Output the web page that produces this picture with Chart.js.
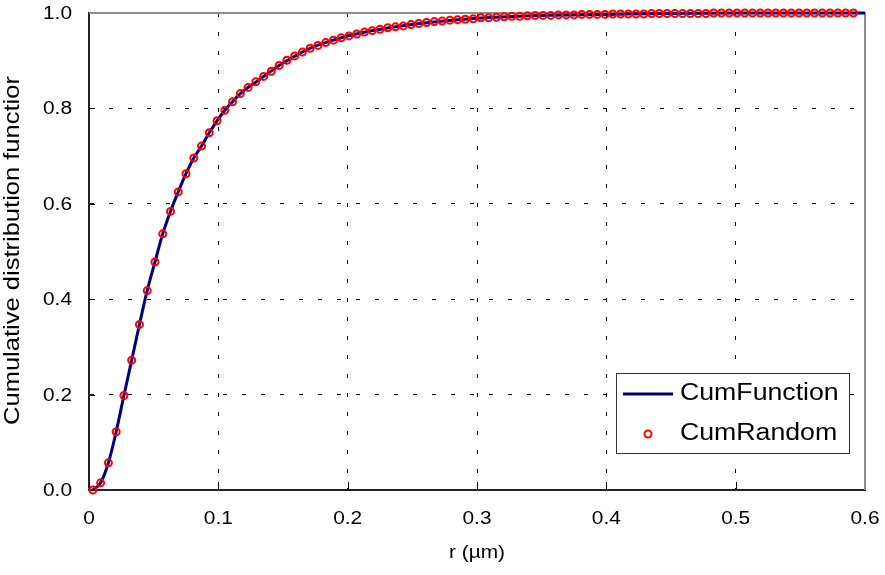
<!DOCTYPE html>
<html>
<head>
<meta charset="utf-8">
<script src="https://cdn.jsdelivr.net/npm/chart.js@4.4.0/dist/chart.umd.min.js"></script>
<style>
  html, body { margin: 0; padding: 0; background: #fff; }
  #grafica { display: block; }
</style>
</head>
<body>
<canvas id="grafica" width="885" height="575"></canvas>
<script>
// Radios de los puntos aleatorios (um)
var radios = [
  0.003, 0.009, 0.015, 0.021, 0.027, 0.033, 0.039, 0.045, 0.051, 0.057,
  0.063, 0.069, 0.075, 0.081, 0.087, 0.093, 0.099, 0.105, 0.111, 0.117,
  0.123, 0.129, 0.135, 0.141, 0.147, 0.153, 0.159, 0.165, 0.171, 0.177,
  0.183, 0.189, 0.195, 0.201, 0.207, 0.213, 0.219, 0.225, 0.231, 0.237,
  0.243, 0.249, 0.255, 0.261, 0.267, 0.273, 0.279, 0.285, 0.291, 0.297,
  0.303, 0.309, 0.315, 0.321, 0.327, 0.333, 0.339, 0.345, 0.351, 0.357,
  0.363, 0.369, 0.375, 0.381, 0.387, 0.393, 0.399, 0.405, 0.411, 0.417,
  0.423, 0.429, 0.435, 0.441, 0.447, 0.453, 0.459, 0.465, 0.471, 0.477,
  0.483, 0.489, 0.495, 0.501, 0.507, 0.513, 0.519, 0.525, 0.531, 0.537,
  0.543, 0.549, 0.555, 0.561, 0.567, 0.573, 0.579, 0.585, 0.591
];

// CumRandom
var cumRandom = [
  0.000, 0.015, 0.057, 0.122, 0.198, 0.272, 0.347, 0.418, 0.478, 0.537,
  0.584, 0.625, 0.663, 0.696, 0.721, 0.749, 0.774, 0.796, 0.814, 0.831,
  0.844, 0.856, 0.867, 0.878, 0.890, 0.901, 0.910, 0.918, 0.926, 0.932,
  0.938, 0.943, 0.948, 0.952, 0.956, 0.960, 0.963, 0.966, 0.969, 0.971,
  0.973, 0.976, 0.978, 0.980, 0.982, 0.983, 0.985, 0.986, 0.987, 0.988,
  0.990, 0.990, 0.991, 0.992, 0.993, 0.993, 0.994, 0.995, 0.995, 0.995,
  0.996, 0.996, 0.996, 0.997, 0.997, 0.997, 0.997, 0.998, 0.998, 0.998,
  0.998, 0.998, 0.999, 0.999, 0.999, 0.999, 0.999, 0.999, 0.999, 0.999,
  1.000, 1.000, 1.000, 1.000, 1.000, 1.000, 1.000, 1.000, 1.000, 1.000,
  1.000, 1.000, 1.000, 1.000, 1.000, 1.000, 1.000, 1.000, 1.000
];

// CumFunction (curva continua)
var radiosFuncion = [
  0.003, 0.009, 0.015, 0.021, 0.027, 0.033, 0.039, 0.045, 0.051, 0.057,
  0.063, 0.069, 0.075, 0.081, 0.087, 0.093, 0.099, 0.105, 0.111, 0.117,
  0.13, 0.15, 0.17, 0.19, 0.21, 0.24, 0.27, 0.30, 0.35, 0.40, 0.45, 0.50, 0.55, 0.60
];
var cumFunction = [
  0.000, 0.015, 0.057, 0.122, 0.198, 0.272, 0.347, 0.418, 0.478, 0.537,
  0.584, 0.625, 0.663, 0.696, 0.721, 0.749, 0.774, 0.796, 0.814, 0.831,
  0.857, 0.895, 0.925, 0.944, 0.958, 0.972, 0.982, 0.989, 0.995, 0.997, 0.999, 1.000, 1.000, 1.000
];

var ticksX = [0, 0.1, 0.2, 0.3, 0.4, 0.5, 0.6];
var etiquetasX = ['0', '0.1', '0.2', '0.3', '0.4', '0.5', '0.6'];
var ticksY = [0, 0.2, 0.4, 0.6, 0.8, 1.0];
var etiquetasY = ['0.0', '0.2', '0.4', '0.6', '0.8', '1.0'];
var nombresSeries = ['CumFunction', 'CumRandom'];
var tituloX = 'r (\u00b5m)';
var tituloY = 'Cumulative distribution functior';

var FUENTE = '"Liberation Sans", Arial, sans-serif';
var ESTIRAR = 1.16; // el texto del original sale algo ensanchado
Chart.defaults.font.family = FUENTE;
Chart.defaults.color = '#000';

function aPuntos(xs, ys) {
    return xs.map(function (x, i) { return { x: x, y: ys[i] }; });
}

// Texto ensanchado horizontalmente (rot en radianes)
function texto(ctx, t, x, y, size, align, rot) {
    ctx.save();
    ctx.translate(x, y);
    if (rot) ctx.rotate(rot);
    ctx.scale(ESTIRAR, 1);
    ctx.font = size + 'px ' + FUENTE;
    ctx.fillStyle = '#000';
    ctx.textAlign = align;
    ctx.textBaseline = 'middle';
    ctx.fillText(t, 0, 0);
    ctx.restore();
}

// Ocultar la rejilla en los bordes del area
function colorRejilla(valores) {
    return function (ctx) {
        if (!ctx.tick) return '#000';
        var v = ctx.tick.value;
        if (v === valores[0] || v === valores[valores.length - 1]) return 'rgba(0,0,0,0)';
        return '#000';
    };
}

// Marco gris, marcas interiores, textos de ejes y leyenda
var marcoPlugin = {
    id: 'marco',
    beforeDatasetsDraw: function (chart) {
        var ctx = chart.ctx;
        var a = chart.chartArea;
        var sx = chart.scales.x, sy = chart.scales.y;
        ctx.save();
        // marcas hacia dentro
        ctx.strokeStyle = '#000';
        ctx.lineWidth = 1;
        ctx.beginPath();
        ticksY.forEach(function (v) {
            var y = Math.round(sy.getPixelForValue(v)) + 0.5;
            ctx.moveTo(a.left, y);
            ctx.lineTo(a.left + 6, y);
        });
        ticksX.forEach(function (v) {
            var x = Math.round(sx.getPixelForValue(v)) + 0.5;
            ctx.moveTo(x, a.bottom);
            ctx.lineTo(x, a.bottom - 8);
        });
        ctx.stroke();
        // borde superior y derecho gris
        ctx.strokeStyle = '#8c8c8c';
        ctx.lineWidth = 2;
        ctx.beginPath();
        ctx.moveTo(a.left, a.top);
        ctx.lineTo(a.right, a.top);
        ctx.lineTo(a.right, a.bottom);
        ctx.stroke();
        ctx.restore();

        // etiquetas de los ejes
        ticksY.forEach(function (v, i) {
            texto(ctx, etiquetasY[i], a.left - 17, sy.getPixelForValue(v) + 1, 18, 'right');
        });
        ticksX.forEach(function (v, i) {
            texto(ctx, etiquetasX[i], sx.getPixelForValue(v), a.bottom + 29, 18, 'center');
        });
        texto(ctx, tituloX, (a.left + a.right) / 2, a.bottom + 63, 18, 'center');
        texto(ctx, tituloY, 12.5, (a.top + a.bottom) / 2 - 1, 22, 'center', -Math.PI / 2);
    },
    afterDatasetsDraw: function (chart) {
        var ctx = chart.ctx;
        var ds = chart.data.datasets;
        ctx.save();
        ctx.fillStyle = '#fff';
        ctx.fillRect(616, 373, 234, 80);
        ctx.strokeStyle = '#333';
        ctx.lineWidth = 1;
        ctx.strokeRect(616.5, 373.5, 233, 80);
        // muestra de linea
        ctx.strokeStyle = ds[0].borderColor;
        ctx.lineWidth = 3;
        ctx.beginPath();
        ctx.moveTo(623, 394);
        ctx.lineTo(673, 394);
        ctx.stroke();
        // muestra de circulo
        ctx.strokeStyle = ds[1].borderColor;
        ctx.lineWidth = 2;
        ctx.beginPath();
        ctx.arc(648, 434, 3.5, 0, Math.PI * 2);
        ctx.stroke();
        ctx.restore();
        // textos
        texto(ctx, ds[0].label, 680, 394, 23, 'left');
        texto(ctx, ds[1].label, 680, 434, 23, 'left');
    }
};

var ctx = document.getElementById('grafica').getContext('2d');
var grafica = new Chart(ctx, {
    type: 'scatter',
    data: {
        datasets: [{
            type: 'line',
            label: nombresSeries[0],
            data: aPuntos(radiosFuncion, cumFunction),
            borderColor: '#000080',
            borderWidth: 3,
            pointRadius: 0,
            fill: false,
            cubicInterpolationMode: 'monotone',
            clip: false,
            order: 2
        }, {
            label: nombresSeries[1],
            data: aPuntos(radios, cumRandom),
            showLine: false,
            pointStyle: 'circle',
            pointRadius: 3.5,
            pointBorderWidth: 2,
            borderColor: '#ff0000',
            pointBorderColor: '#ff0000',
            pointBackgroundColor: 'rgba(0,0,0,0)',
            clip: false,
            order: 1
        }]
    },
    options: {
        responsive: false,
        animation: false,
        devicePixelRatio: 1,
        layout: { padding: { top: 13, right: 20, left: 0, bottom: 0 } },
        plugins: {
            legend: { display: false },
            tooltip: { enabled: false }
        },
        scales: {
            x: {
                type: 'linear',
                min: 0,
                max: 0.6,
                afterBuildTicks: function (s) { s.ticks = ticksX.map(function (v) { return { value: v }; }); },
                afterFit: function (s) { s.height = 85; s.paddingLeft = 0; s.paddingRight = 0; },
                ticks: { display: false },
                grid: { color: colorRejilla(ticksX), lineWidth: 1, drawTicks: false },
                border: { display: true, color: '#222', width: 2, dash: [4, 15] },
                title: { display: false }
            },
            y: {
                type: 'linear',
                min: 0,
                max: 1,
                afterBuildTicks: function (s) { s.ticks = ticksY.map(function (v) { return { value: v }; }); },
                afterFit: function (s) { s.width = 89; s.paddingTop = 0; s.paddingBottom = 0; },
                ticks: { display: false },
                grid: { color: colorRejilla(ticksY), lineWidth: 1, drawTicks: false },
                border: { display: true, color: '#222', width: 2, dash: [4, 15] },
                title: { display: false }
            }
        }
    },
    plugins: [marcoPlugin]
});
</script>
</body>
</html>
